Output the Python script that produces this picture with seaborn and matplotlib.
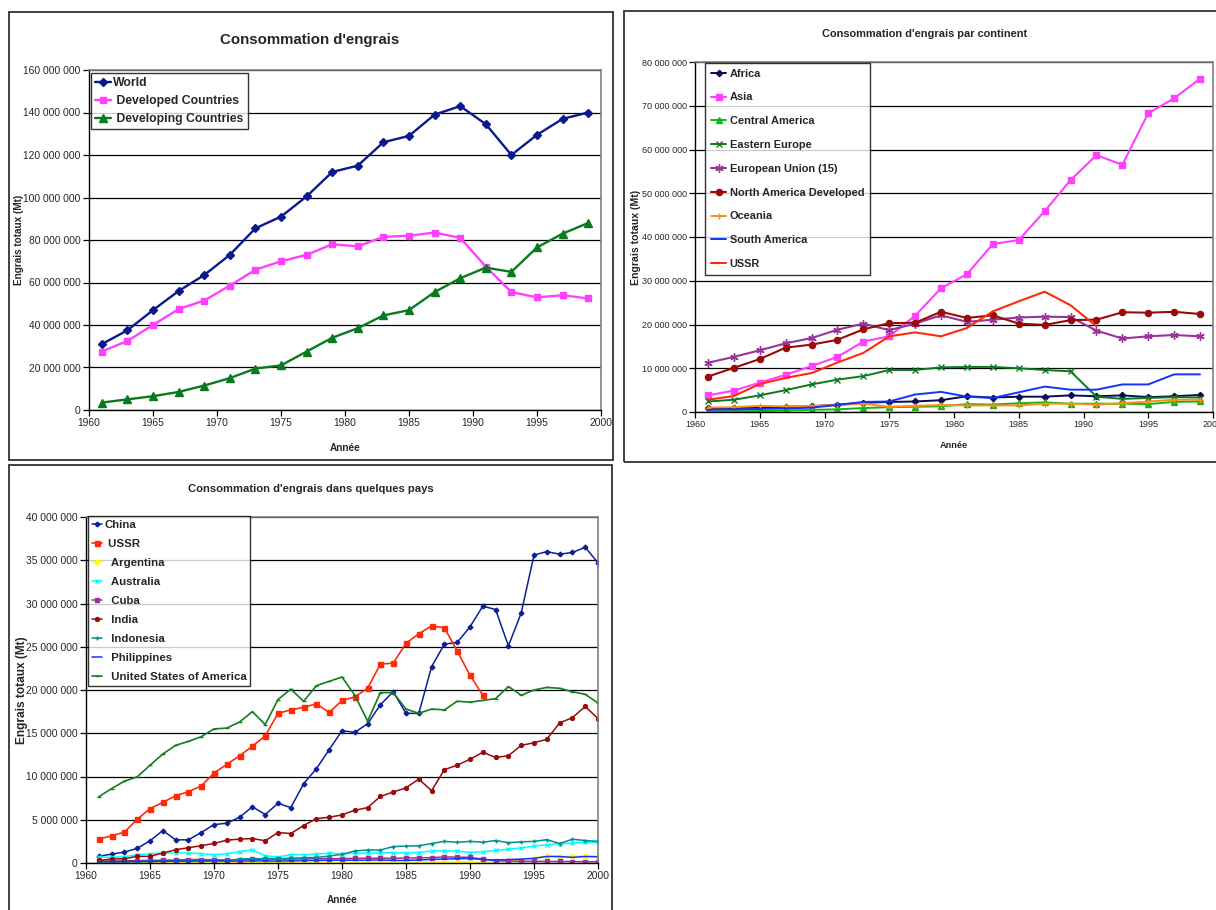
import matplotlib
matplotlib.use("Agg")
import matplotlib.pyplot as plt
import seaborn as sns
import numpy as np
import pandas as pd
from matplotlib.ticker import FuncFormatter, MultipleLocator
from matplotlib.patches import Rectangle

# ---------------- data (millions of tonnes) ----------------
years_bi = list(range(1961, 2000, 2))
years_bi_ussr = list(range(1961, 1992, 2))
years_all = list(range(1961, 2001))
years_ussr = list(range(1961, 1992))

# global totals
world = [31, 37.5, 47, 56, 63.5, 73, 85.5, 91, 100.5, 112, 115, 126, 129, 139, 143, 134.5, 120, 129.5, 137, 140]
developed = [27.5, 32.5, 40, 47.5, 51.5, 58.5, 66, 70, 73, 78, 77, 81.5, 82, 83.5, 81, 67.5, 55.5, 53, 54, 52.5]
developing = [3.5, 5, 6.5, 8.5, 11.5, 15, 19.5, 21, 27.5, 34, 38.5, 44.5, 47, 55.5, 62, 67, 65, 76.5, 83, 88]

# continents
africa = [0.8, 0.9, 1.0, 1.2, 1.3, 1.7, 2.1, 2.3, 2.4, 2.7, 3.6, 3.3, 3.5, 3.5, 3.8, 3.6, 3.8, 3.4, 3.6, 3.9]
asia = [3.8, 4.9, 6.7, 8.5, 10.5, 12.6, 16.1, 17.3, 22.0, 28.3, 31.5, 38.4, 39.3, 45.9, 53.0, 58.7, 56.5, 68.3, 71.7, 76.2]
central_america = [0.1, 0.2, 0.2, 0.35, 0.5, 0.6, 0.9, 1.1, 1.2, 1.3, 1.8, 1.7, 2.0, 2.2, 1.9, 1.9, 1.9, 1.8, 2.3, 2.4]
eastern_europe = [2.4, 2.8, 3.8, 5.0, 6.3, 7.4, 8.2, 9.6, 9.6, 10.2, 10.3, 10.3, 10.0, 9.6, 9.3, 3.5, 3.0, 3.2, 3.4, 3.3]
eu15 = [11.25, 12.6, 14.1, 15.7, 16.9, 18.8, 20.2, 18.7, 20.2, 22.1, 20.6, 21.1, 21.6, 21.8, 21.7, 18.6, 16.8, 17.3, 17.6, 17.3]
north_america_dev = [8.1, 10.1, 12.1, 14.7, 15.4, 16.5, 18.9, 20.3, 20.4, 22.9, 21.5, 22.1, 20.2, 19.9, 21.0, 21.1, 22.8, 22.7, 22.9, 22.4]
oceania = [1.0, 1.1, 1.4, 1.3, 1.4, 1.6, 1.9, 1.2, 1.4, 1.6, 1.5, 1.5, 1.5, 1.9, 1.9, 1.7, 2.0, 2.4, 2.8, 2.8]
south_america = [0.5, 0.6, 0.7, 0.8, 1.0, 1.6, 2.3, 2.4, 4.0, 4.6, 3.5, 3.2, 4.5, 5.8, 5.1, 5.1, 6.3, 6.3, 8.6, 8.6]
ussr_bi = [2.8, 3.65, 6.4, 7.8, 8.9, 11.3, 13.5, 17.3, 18.2, 17.3, 19.2, 23.0, 25.3, 27.5, 24.4, 19.6]

# countries (yearly)
china = [0.77, 1.03, 1.26, 1.69, 2.57, 3.75, 2.68, 2.68, 3.52, 4.44,
         4.6, 5.29, 6.5, 5.6, 6.9, 6.4, 9.16, 10.9, 13.1, 15.3,
         15.1, 16.1, 18.3, 19.8, 17.3, 17.3, 22.7, 25.3, 25.5, 27.3,
         29.7, 29.3, 25.1, 28.9, 35.6, 36.0, 35.7, 35.9, 36.5, 34.7]
ussr = [2.76, 3.14, 3.56, 5.06, 6.28, 7.0, 7.78, 8.24, 8.9, 10.4,
        11.4, 12.4, 13.5, 14.7, 17.3, 17.7, 18.0, 18.4, 17.4, 18.8,
        19.2, 20.2, 23.0, 23.1, 25.4, 26.5, 27.4, 27.2, 24.5, 21.7, 19.4]
argentina = [0.03, 0.03, 0.03, 0.04, 0.04, 0.04, 0.04, 0.05, 0.05, 0.06,
             0.07, 0.07, 0.07, 0.06, 0.06, 0.06, 0.05, 0.06, 0.07, 0.08,
             0.07, 0.07, 0.08, 0.1, 0.1, 0.1, 0.12, 0.12, 0.1, 0.1,
             0.1, 0.15, 0.2, 0.35, 0.5, 0.85, 0.73, 0.8, 0.8, 0.8]
australia = [0.69, 0.65, 0.73, 0.96, 1.07, 1.15, 1.15, 1.15, 1.07, 0.96,
             1.07, 1.3, 1.53, 0.84, 0.69, 0.96, 0.96, 1.03, 1.15, 1.03,
             1.15, 1.15, 1.15, 1.2, 1.15, 1.2, 1.4, 1.4, 1.4, 1.2,
             1.3, 1.45, 1.6, 1.75, 1.95, 2.1, 2.25, 2.3, 2.4, 2.4]
cuba = [0.2, 0.22, 0.25, 0.28, 0.3, 0.32, 0.35, 0.4, 0.4, 0.38,
        0.35, 0.4, 0.42, 0.45, 0.45, 0.45, 0.5, 0.5, 0.5, 0.5,
        0.55, 0.55, 0.55, 0.55, 0.57, 0.6, 0.62, 0.7, 0.68, 0.65,
        0.45, 0.27, 0.22, 0.2, 0.2, 0.18, 0.18, 0.17, 0.15, 0.15]
india = [0.3, 0.46, 0.5, 0.77, 0.77, 1.15, 1.53, 1.76, 2.0, 2.26,
         2.64, 2.76, 2.83, 2.57, 3.52, 3.41, 4.33, 5.13, 5.29, 5.56,
         6.1, 6.4, 7.7, 8.2, 8.7, 9.7, 8.35, 10.8, 11.3, 12.0,
         12.8, 12.2, 12.4, 13.6, 13.9, 14.3, 16.2, 16.8, 18.1, 16.7]
indonesia = [0.12, 0.13, 0.15, 0.15, 0.18, 0.2, 0.22, 0.25, 0.28, 0.3,
             0.3, 0.45, 0.5, 0.5, 0.5, 0.55, 0.6, 0.65, 0.8, 1.0,
             1.4, 1.5, 1.5, 1.9, 1.95, 2.0, 2.25, 2.5, 2.4, 2.5,
             2.4, 2.6, 2.35, 2.45, 2.5, 2.7, 2.25, 2.75, 2.6, 2.5]
philippines = [0.15, 0.16, 0.17, 0.18, 0.2, 0.2, 0.22, 0.22, 0.23, 0.24,
               0.22, 0.23, 0.25, 0.24, 0.22, 0.25, 0.28, 0.3, 0.32, 0.33,
               0.32, 0.33, 0.35, 0.3, 0.3, 0.35, 0.42, 0.45, 0.5, 0.52,
               0.4, 0.35, 0.4, 0.45, 0.55, 0.75, 0.75, 0.65, 0.75, 0.72]
usa = [7.66, 8.6, 9.46, 9.96, 11.3, 12.6, 13.6, 14.06, 14.6, 15.5,
       15.6, 16.3, 17.5, 16.0, 18.9, 20.1, 18.7, 20.5, 21.0, 21.5,
       19.4, 16.4, 19.7, 19.7, 17.8, 17.3, 17.8, 17.7, 18.7, 18.6,
       18.8, 19.0, 20.4, 19.4, 20.0, 20.3, 20.2, 19.8, 19.5, 18.5]

MIO = 1e6

# ---------------- style ----------------
sns.set_theme(style="white")
plt.rcParams["font.family"] = ["Liberation Sans", "DejaVu Sans"]
plt.rcParams["axes.unicode_minus"] = False

fig = plt.figure(figsize=(12.16, 9.10), dpi=100)
W, H = 1216, 910


def px_axes(x0, y0, x1, y1):
    return fig.add_axes([x0 / W, 1 - y1 / H, (x1 - x0) / W, (y1 - y0) / H])


def frame(x0, y0, x1, y1):
    fig.patches.append(Rectangle((x0 / W, 1 - y1 / H), (x1 - x0) / W, (y1 - y0) / H,
                                 transform=fig.transFigure, fill=False,
                                 edgecolor="#333333", linewidth=1.3, zorder=0))


def fig_text(x, y, s, size):
    fig.text(x / W, 1 - y / H, s, ha="center", va="center", fontsize=size, fontweight="bold")


sep = FuncFormatter(lambda v, p: "0" if v == 0 else f"{int(round(v)):,}".replace(",", " "))


def style_axes(ax, ymax, ystep, tick_fs):
    ax.set_xlim(1960, 2000)
    ax.set_ylim(0, ymax)
    ax.xaxis.set_major_locator(MultipleLocator(5))
    ax.yaxis.set_major_locator(MultipleLocator(ystep))
    ax.yaxis.set_major_formatter(sep)
    ax.grid(False)
    ax.yaxis.grid(True, color="black", linewidth=0.9)
    ax.set_axisbelow(True)
    for s in ["left", "bottom"]:
        ax.spines[s].set_color("black")
        ax.spines[s].set_linewidth(1.0)
    for s in ["top", "right"]:
        ax.spines[s].set_color("#808080")
        ax.spines[s].set_linewidth(1.2)
    ax.tick_params(axis="both", direction="out", length=4, width=0.9, color="black",
                   labelsize=tick_fs, pad=2, left=True, bottom=True)
    ax.set_facecolor("white")


def draw(ax, x, y, color, marker, ms, lw, label, mew=1.0):
    sns.lineplot(x=x, y=np.array(y) * MIO, ax=ax, color=color, marker=marker,
                 markersize=ms, linewidth=lw, markeredgecolor=color,
                 markerfacecolor=color, markeredgewidth=mew, label=label, sort=False)


def labels(ax, ylab_x, xlab_y, ysize, xsize):
    ax.set_xlabel("Année", fontsize=xsize, fontweight="bold")
    ax.set_ylabel("Engrais totaux (Mt)", fontsize=ysize, fontweight="bold")
    ax.yaxis.set_label_coords(ylab_x, 0.5)
    ax.xaxis.set_label_coords(0.5, xlab_y)


# ---------------- panel 1: world totals ----------------
frame(9, 12, 613, 460)
ax1 = px_axes(89, 70, 601, 410)
draw(ax1, years_bi, world, "#0A1A8C", "D", 3.8, 1.7, "World")
draw(ax1, years_bi, developed, "#FF40FF", "s", 4.8, 1.7, " Developed Countries")
draw(ax1, years_bi, developing, "#0A7A1E", "^", 5.2, 1.7, " Developing Countries")
style_axes(ax1, 160 * MIO, 20 * MIO, 7.4)
fig_text(310, 40, "Consommation d'engrais", 10.8)
labels(ax1, -0.127, -0.097, 7.2, 7.2)
leg = ax1.legend(loc="upper left", bbox_to_anchor=(0.004, 0.992), borderaxespad=0,
                 frameon=True, fancybox=False, edgecolor="black",
                 prop={"weight": "bold", "size": 8.8}, handlelength=1.25, handletextpad=0.2,
                 labelspacing=0.5, borderpad=0.35)
leg.get_frame().set_linewidth(1.0)

# ---------------- panel 2: continents ----------------
frame(624, 11, 1222, 462)
ax2 = px_axes(695, 62, 1213, 412)
draw(ax2, years_bi, africa, "#0A0A50", "D", 3.2, 1.4, "Africa")
draw(ax2, years_bi, asia, "#FF40FF", "s", 4.2, 1.5, "Asia")
draw(ax2, years_bi, central_america, "#14B414", "^", 4.4, 1.4, "Central America")
draw(ax2, years_bi, eastern_europe, "#0A7A1E", "x", 4.2, 1.4, "Eastern Europe")
draw(ax2, years_bi, eu15, "#993399", (6, 2, 0), 6, 1.5, "European Union (15)")
draw(ax2, years_bi, north_america_dev, "#990A0A", "o", 4.4, 1.5, "North America Developed")
draw(ax2, years_bi, oceania, "#FF8C14", "+", 5, 1.4, "Oceania")
draw(ax2, years_bi, south_america, "#1432FF", None, 0, 1.4, "South America")
draw(ax2, years_bi_ussr, ussr_bi, "#FF2A0A", None, 0, 1.5, "USSR")
style_axes(ax2, 80 * MIO, 10 * MIO, 6.5)
fig_text(925, 34, "Consommation d'engrais par continent", 7.9)
labels(ax2, -0.104, -0.083, 7.6, 6.6)
leg = ax2.legend(loc="upper left", bbox_to_anchor=(0.0195, 0.997), borderaxespad=0,
                 frameon=True, fancybox=False, edgecolor="black",
                 prop={"weight": "bold", "size": 7.9}, handlelength=1.45, handletextpad=0.3,
                 labelspacing=1.26, borderpad=0.5)
leg.get_frame().set_linewidth(1.0)

# ---------------- panel 3: countries ----------------
frame(9, 465, 612, 915)
ax3 = px_axes(86, 517, 598, 863)
draw(ax3, years_all, china, "#0A1F9A", "D", 2.4, 1.1, "China")
draw(ax3, years_ussr, ussr, "#FF2A0A", "s", 3.6, 1.2, " USSR")
draw(ax3, years_all, argentina, "#FFFF00", "D", 2.6, 1.1, "  Argentina")
draw(ax3, years_all, australia, "#00FFFF", "x", 3.4, 1.1, "  Australia")
draw(ax3, years_all, cuba, "#993399", "s", 2.6, 1.1, "  Cuba")
draw(ax3, years_all, india, "#990A0A", "o", 2.8, 1.1, "  India")
draw(ax3, years_all, indonesia, "#009090", "+", 3.4, 1.1, "  Indonesia")
draw(ax3, years_all, philippines, "#1432FF", None, 0, 1.1, "  Philippines")
draw(ax3, years_all, usa, "#0F7F1F", "_", 2.6, 1.2, "  United States of America")
style_axes(ax3, 40 * MIO, 5 * MIO, 7.4)
fig_text(311, 489, "Consommation d'engrais dans quelques pays", 8.1)
labels(ax3, -0.113, -0.092, 8.6, 7.2)
leg = ax3.legend(loc="upper left", bbox_to_anchor=(0.004, 1.003), borderaxespad=0,
                 frameon=True, fancybox=False, edgecolor="black",
                 prop={"weight": "bold", "size": 8.2}, handlelength=0.9, handletextpad=0.2,
                 labelspacing=0.79, borderpad=0.35)
leg.get_frame().set_linewidth(1.0)

fig.savefig("out.png", dpi=100, facecolor="white")
